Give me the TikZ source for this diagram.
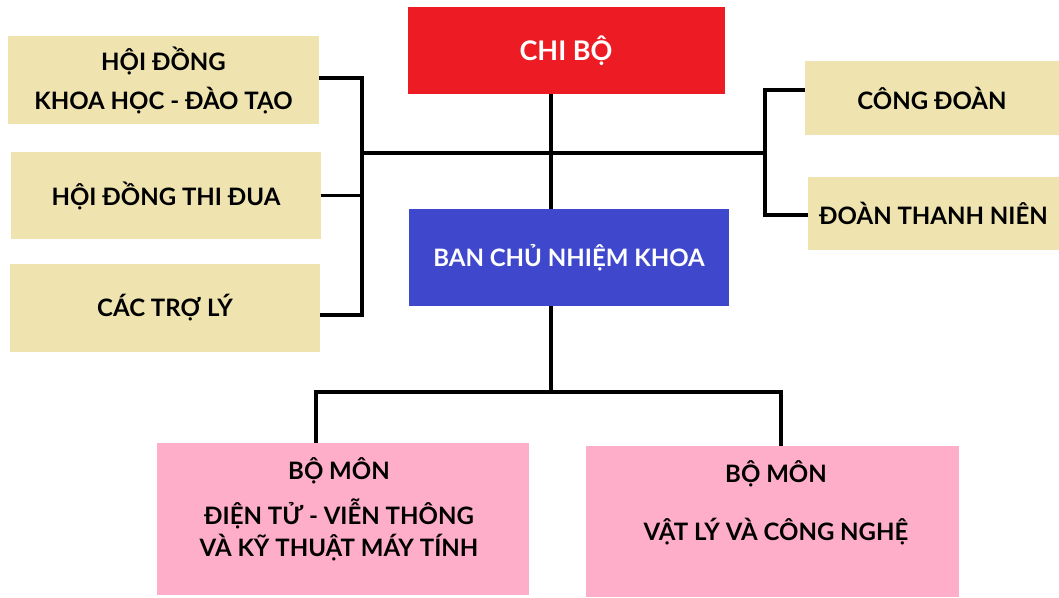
\documentclass[tikz,border=0pt]{standalone}
\usepackage{fontspec}
\setmainfont{Lato}
\usepackage{xcolor}
\usetikzlibrary{positioning}

\definecolor{chired}{HTML}{ED1C24}
\definecolor{banblue}{HTML}{3F48CC}
\definecolor{tan}{HTML}{EFE4B0}
\definecolor{pinkbox}{HTML}{FFAEC9}

\begin{document}
\begin{tikzpicture}[
    x=1pt, y=-1pt,
    unit/.style={rectangle, inner sep=0pt, align=center,
      font=\bfseries\fontsize{24}{39}\selectfont},
    side/.style={unit, fill=tan, text=black},
    dept/.style={unit, fill=pinkbox},
    label/.style={align=center, inner sep=0pt, font=\bfseries\fontsize{24}{32}\selectfont},
    link/.style={line width=3.5pt, black}
  ]
  \useasboundingbox (0,0) rectangle (1059,597);

  % Top
  \node[unit, fill=chired, text=white, minimum width=317, minimum height=87,
    font=\bfseries\fontsize{27}{36}\selectfont] (CB) at (566,50.5) {CHI BỘ};
  \node[unit, fill=banblue, text=white, minimum width=320, minimum height=97] (BCN) at (569,257.5) {BAN CHỦ NHIỆM KHOA};

  % Left group
  \node[side, minimum width=311, minimum height=88] (HD1) at (163.5,80) {HỘI ĐỒNG\\KHOA HỌC - ĐÀO TẠO};
  \node[side, minimum width=310, minimum height=87] (HD2) at (166,195.5) {HỘI ĐỒNG THI ĐUA};
  \node[side, minimum width=310, minimum height=88] (TL) at (165,308) {CÁC TRỢ LÝ};

  % Right group
  \node[side, minimum width=254, minimum height=74] (CD) at (932,98) {CÔNG ĐOÀN};
  \node[side, minimum width=251, minimum height=73] (DTN) at (933.5,213.5) {ĐOÀN THANH NIÊN};

  % Departments
  \node[dept, minimum width=372, minimum height=152] (BM1) at (342.5,519) {};
  \node[label] (BM1L) at (339,509) {BỘ MÔN\\[13pt]ĐIỆN TỬ - VIỄN THÔNG\\VÀ KỸ THUẬT MÁY TÍNH};
  \node[dept, minimum width=373, minimum height=151] (BM2) at (772,521.5) {};
  \node[label] (BM2L) at (776,503) {BỘ MÔN\\[26pt]VẬT LÝ VÀ CÔNG NGHỆ};

  % Junctions
  \coordinate (LB) at (362,153);
  \coordinate (RB) at (765,153);
  \coordinate (D) at (551,392);
  \coordinate (DL) at (316,392);
  \coordinate (DR) at (781,392);

  % Connections
  \draw[link] ([xshift=-15pt]CB.south) -- ([xshift=-18pt]BCN.north);
  \draw[link] (LB) -- (RB);
  \draw[link] ([yshift=2pt]HD1.east) -| (LB);
  \draw[link] (HD2.east) -- (HD2.east -| LB);
  \draw[link] ([yshift=-7pt]TL.east) -| (LB);
  \draw[link] ([yshift=8pt]CD.west) -| (RB);
  \draw[link] ([yshift=-1.5pt]DTN.west) -| (RB);
  \draw[link] ([xshift=-18pt]BCN.south) -- (D);
  \draw[link, line cap=rect] (DL) -- (DR);
  \draw[link] (DL) -- (DL |- BM1.north);
  \draw[link] (DR) -- (DR |- BM2.north);

\end{tikzpicture}
\end{document}
